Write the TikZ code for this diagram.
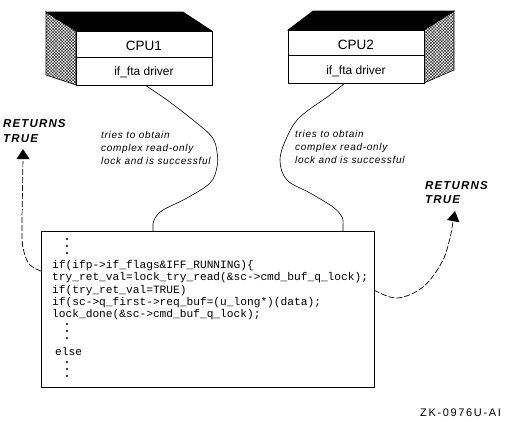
\documentclass[tikz,border=0pt]{standalone}
\usepackage{fontspec}
\setmainfont{Liberation Sans}
\newfontfamily\codefont{Liberation Mono}
\newfontfamily\wideit[LetterSpace=7]{Liberation Sans}
\newfontfamily\widebf[LetterSpace=10]{Liberation Sans}
\newfontfamily\widelab[LetterSpace=15]{Liberation Sans}
\usetikzlibrary{patterns.meta}
\tikzset{
  box/.style={draw,line width=0.9pt,fill=white,inner sep=0pt},
  topface/.style={fill=black,draw=black,line width=0.6pt},
  sideface/.style={draw=black,line width=0.6pt,pattern={Hatch[distance=2.2pt,angle=45,line width=0.35pt]}},
  cpulbl/.style={font=\fontsize{13.5}{15}\selectfont,inner sep=0pt},
  drvlbl/.style={font=\fontsize{12}{14}\selectfont,inner sep=0pt},
  note/.style={font=\wideit\fontsize{10}{13}\itshape\selectfont,anchor=mid west,inner sep=0pt},
  ret/.style={font=\widebf\fontsize{11.5}{13}\bfseries\itshape\selectfont,anchor=mid west,inner sep=0pt},
  code/.style={font=\codefont\fontsize{11.2}{12.3}\selectfont,anchor=mid west,inner sep=0pt},
  wire/.style={line width=0.6pt},
  dashwire/.style={line width=0.7pt,dash pattern=on 6pt off 2pt},
  tiphead/.style={fill=black},
  vdot/.style={circle,fill=black,inner sep=0pt,minimum size=2.2pt},
}
\begin{document}
\begin{tikzpicture}[x=1pt,y=-1pt]
\useasboundingbox (0,0) rectangle (512,421);
\fill[white] (0,0) rectangle (512,421);
% CPU1 block
\draw[topface] (46,12) -- (183,12) -- (212,31) -- (76,31) -- cycle;
\draw[sideface] (46,12) -- (76,31) -- (76,85) -- (46,75) -- cycle;
\node[box,minimum width=136pt,minimum height=54pt] (cpu1) at (144,58) {};
\draw[line width=0.9pt] (76,57) -- (212,57);
\node[cpulbl] (cpu1lbl) at (144,46) {CPU1};
\node[drvlbl] (drv1) at (144,72) {if\_fta driver};
% CPU2 block
\draw[topface] (313,11) -- (454,11) -- (424,30) -- (288,30) -- cycle;
\draw[sideface] (424,30) -- (454,11) -- (454,70) -- (424,83) -- cycle;
\node[box,minimum width=136pt,minimum height=53pt] (cpu2) at (356,56.5) {};
\draw[line width=0.9pt] (288,55) -- (424,55);
\node[cpulbl] (cpu2lbl) at (356,45) {CPU2};
\node[drvlbl] (drv2) at (356,71) {if\_fta driver};
% code box
\node[box,minimum width=333pt,minimum height=156pt] (codebox) at (207.5,309) {};
\foreach \yy in {239,246,253,324,331,338,362,369,376}
  \node[vdot] at (67,\yy) {};
\node[code] (l1) at (52,266) {if(ifp->if\_flags\&IFF\_RUNNING)\{};
\node[code] (l2) at (52,278) {try\_ret\_val=lock\_try\_read(\&sc->cmd\_buf\_q\_lock);};
\node[code] (l3) at (52,290.5) {if(try\_ret\_val=TRUE)};
\node[code] (l4) at (52,303) {if(sc->q\_first->req\_buf=(u\_long*)(data);};
\node[code] (l5) at (52,315) {lock\_done(\&sc->cmd\_buf\_q\_lock);};
\node[code] (l6) at (55,353) {else};
% notes
\node[note] (n1a) at (101,136) {tries to obtain};
\node[note] (n1b) at (101,149) {complex read-only};
\node[note] (n1c) at (101,162) {lock and is successful};
\node[note] (n2a) at (295,135) {tries to obtain};
\node[note] (n2b) at (295,148) {complex read-only};
\node[note] (n2c) at (295,161) {lock and is successful};
% returns labels
\node[ret] (r1a) at (3,125) {RETURNS};
\node[ret] (r1b) at (3,140) {TRUE};
\node[ret] (r2a) at (425,187) {RETURNS};
\node[ret] (r2b) at (425,201) {TRUE};
% connectors
\draw[wire] plot[smooth,tension=0.6] coordinates {(145,85) (167,100) (193,120) (212,137) (217,152) (217,167) (210,183) (187,198) (163,210) (155,218) (153,224)} -- (153,231);
\draw[wire] plot[smooth,tension=0.6] coordinates {(345,83) (330,95) (300,117) (287,137) (280,160) (287,180) (310,193) (333,207) (342,217) (343,224)} -- (343,231);
\draw[dashwire] plot[smooth,tension=0.6] coordinates {(41,271) (30,265) (24,252) (22,235) (22.5,190) (23,158)};
\fill[tiphead] (23,149) -- (29.5,159) -- (16.5,159) -- cycle;
\draw[dashwire] plot[smooth,tension=0.6] coordinates {(374,290) (397,298) (423,287) (442,262) (450,238) (453,221)};
\fill[tiphead] (455,211) -- (459.4,222.3) -- (447,220) -- cycle;
% figure id
\node[font=\widelab\fontsize{11}{13}\selectfont,anchor=mid west,inner sep=0pt] (figid) at (420,414) {ZK-0976U-AI};
\end{tikzpicture}
\end{document}
